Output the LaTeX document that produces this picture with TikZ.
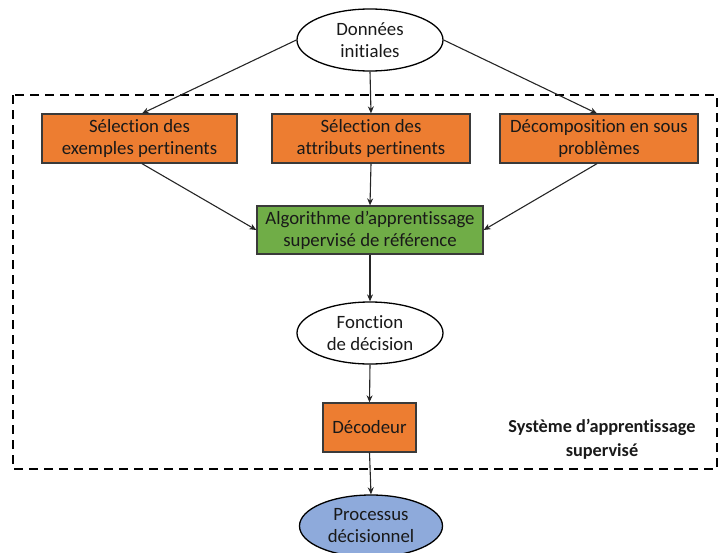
\documentclass[tikz,border=0pt]{standalone}
\usepackage{fontspec}
\setmainfont[Ligatures={NoCommon}]{Carlito}
\usetikzlibrary{shapes.geometric,arrows.meta}
\definecolor{boxorange}{HTML}{ED7D31}
\definecolor{boxgreen}{HTML}{70AD47}
\definecolor{ovalblue}{HTML}{8EAADB}
\definecolor{edgegray}{HTML}{3A3A3A}
\begin{document}
\begin{tikzpicture}[x=1pt,y=-1pt,
  every node/.style={font=\fontsize{18.8}{22}\selectfont, align=center, text=black!90},
  oval/.style={ellipse, draw=black, line width=1.3pt, fill=white, minimum width=146pt, minimum height=62pt, inner sep=0pt},
  orangebox/.style={rectangle, draw=edgegray, line width=1.3pt, fill=boxorange, inner sep=0pt},
  greenbox/.style={rectangle, draw=edgegray, line width=1.3pt, fill=boxgreen, inner sep=0pt},
  link/.style={draw=black!85, line width=1.1pt, -{Stealth[length=7pt,width=6pt]}},
  frame/.style={draw=black, line width=1.8pt, dash pattern=on 9pt off 6pt}
]
\useasboundingbox (0,0) rectangle (718,552);

% supervised learning system frame
\draw[frame] (13,95) rectangle (717,469);

% nodes
\node[oval] (data) at (370,40) {Données\\initiales};
\node[orangebox, minimum width=195pt, minimum height=49pt] (ex) at (139.5,138.5) {Sélection des\\exemples pertinents};
\node[orangebox, minimum width=198pt, minimum height=49pt] (attr) at (371,138.5) {Sélection des\\attributs pertinents};
\node[orangebox, minimum width=198pt, minimum height=49pt] (dec) at (599,138.5) {Décomposition en sous\\problèmes};
\node[greenbox, minimum width=226pt, minimum height=48pt] (algo) at (370,230) {Algorithme d’apprentissage\\supervisé de référence};
\node[oval] (fct) at (370,333) {Fonction\\de décision};
\node[orangebox, minimum width=93pt, minimum height=49pt] (decod) at (369.5,427.5) {Décodeur};
\node[oval, fill=ovalblue, minimum width=143pt] (proc) at (371,526) {Processus\\décisionnel};
\node[font=\fontsize{18.3}{24}\selectfont\bfseries] (label) at (602,439) {Système d’apprentissage\\supervisé};

% connectors
\coordinate (exin) at (142,113.5);
\coordinate (decin) at (597,113.5);
\draw[link] (data.west) -- (exin);
\draw[link] (data.south) -- (attr.north);
\draw[link] (data.east) -- (decin);
\draw[link] (ex.south -| exin) -- (algo.west);
\draw[link] (attr.south) -- (algo.north);
\draw[link] (dec.south -| decin) -- (algo.east);
\draw[link] (algo.south) -- (fct.north);
\draw[link] (fct.south) -- (decod.north);
\draw[link] (decod.south) -- (proc.north);
\end{tikzpicture}
\end{document}
